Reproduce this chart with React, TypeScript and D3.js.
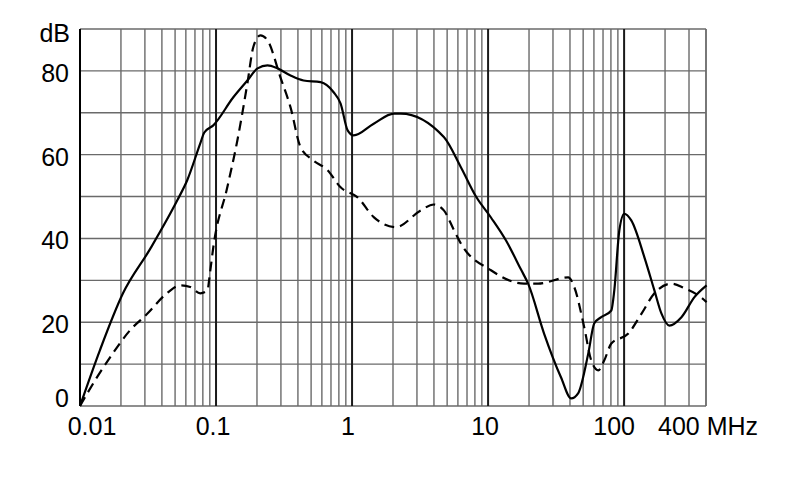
import * as d3 from 'd3';

// curve readings: frequency in MHz, level in dB
const solidFreq = [
	0.01, 0.014, 0.0207, 0.0328, 0.0519, 0.0614, 0.0766, 0.082, 0.0955, 0.134, 0.17, 0.202, 0.239,
	0.283, 0.353, 0.44, 0.587, 0.732, 0.824, 0.928, 1.028, 1.443, 2.03, 2.28, 4.73, 6.31, 8.15,
	10.5, 13.55, 17.5, 19.7, 25.8, 34.4, 40.8, 45.9, 54.5, 60.3, 67.9, 80.5, 84.7, 92.2, 100.3,
	112.9, 141, 167, 188, 215, 264, 329, 404,
];
const solidDb = [
	0, 13.3, 26.9, 37.5, 49.1, 53.9, 62.7, 65.3, 67, 73.7, 77.7, 80.6, 81.3, 80.6, 78.9, 77.7,
	77.3, 74.9, 72.2, 65.8, 64.6, 67.4, 69.8, 69.8, 64.2, 57, 50, 45, 39.5, 32.5, 29.2, 17.3, 6.8,
	1.8, 3, 12.5, 19.7, 21.2, 22.8, 27.6, 41.9, 45.9, 44.3, 35.5, 27.6, 22.1, 19.2, 21.2, 26, 28.8,
];

const dashedFreq = [
	0.01, 0.01335, 0.01664, 0.02336, 0.0312, 0.0438, 0.0546, 0.0647, 0.0766, 0.0863, 0.0908,
	0.0955, 0.121, 0.1435, 0.17, 0.188, 0.212, 0.239, 0.298, 0.353, 0.418, 0.521, 0.661, 0.824,
	1.099, 1.443, 2.1, 3.2, 3.99, 4.73, 5.61, 6.31, 10.5, 18.4, 23.3, 38.8, 43, 50.9, 57.3, 64.6,
	71.5, 80.5, 107.4, 134, 167, 223, 278, 352, 404,
];
const dashedDb = [
	0, 6.9, 11.6, 18.1, 22, 27, 28.8, 28.4, 26.9, 27.6, 32.4, 37.9, 52.2, 63.4, 77, 85.7, 88.5,
	87.3, 78.4, 71.3, 61.8, 58.6, 56.3, 52.2, 49.8, 45.1, 42.7, 46.7, 48.1, 46.7, 42, 38.8, 32.4,
	29.2, 29.2, 30.7, 28.4, 18.8, 10.9, 8.5, 10.9, 14.9, 17.3, 22, 26.9, 29.2, 28.1, 26.4, 24.8,
];

const yTicks = [0, 20, 40, 60, 80];
const xTicks = [0.01, 0.1, 1, 10, 100];
const decades = [0.01, 0.1, 1, 10, 100];
const multipliers = [1, 2, 3, 4, 5, 6, 7, 8, 9];

const WIDTH = 790;
const HEIGHT = 499;
const FONT = '"Liberation Sans", Arial, sans-serif';

const App = () => {
	const x = d3.scaleLog().domain([0.01, 400]).range([80, 706]);
	const y = d3.scaleLinear().domain([0, 90]).range([406, 29]);

	const vLines = decades
		.flatMap((d) => multipliers.map((m) => ({ v: d * m, major: m === 1 })))
		.filter((l) => l.v <= 400.0001)
		.concat([{ v: 400, major: false }]);
	const hLines = d3.range(0, 91, 10);

	const line = d3
		.line<[number, number]>()
		.x((d) => x(d[0]))
		.y((d) => y(d[1]))
		.curve(d3.curveMonotoneX);

	const solid = line(solidFreq.map((f, i) => [f, solidDb[i]])) ?? '';
	const dashed = line(dashedFreq.map((f, i) => [f, dashedDb[i]])) ?? '';

	// label nudges as in the original print
	const xLabelDx: Record<number, number> = { 0.01: 12, 0.1: -3, 1: -4, 10: -3, 100: -10 };

	return (
		<svg
			width={WIDTH}
			height={HEIGHT}
			style={{ position: 'absolute', left: 0, top: 0, background: '#fff' }}
			fontFamily={FONT}
		>
			<g>
				{hLines.map((v) => (
					<line
						key={`h${v}`}
						x1={x(0.01)}
						x2={x(400)}
						y1={y(v)}
						y2={y(v)}
						stroke="#6a6a6a"
						strokeWidth={1.4}
					/>
				))}
				{vLines.map((l, i) => (
					<line
						key={`v${i}`}
						x1={x(l.v)}
						x2={x(l.v)}
						y1={y(0)}
						y2={y(90)}
						stroke={l.major ? '#1a1a1a' : '#6a6a6a'}
						strokeWidth={l.major ? 2 : 1.4}
					/>
				))}
				<line x1={x(0.01)} x2={x(0.01)} y1={y(0)} y2={y(90)} stroke="#000" strokeWidth={2} />
			</g>

			<path d={dashed} fill="none" stroke="#000" strokeWidth={2.2} strokeDasharray="10 6" />
			<path d={solid} fill="none" stroke="#000" strokeWidth={2.2} />

			<g fontSize={25} fill="#000" textAnchor="end">
				{yTicks.map((v) => (
					<text key={v} x={69} y={y(v) + (v === 0 ? 1 : 11)}>
						{v}
					</text>
				))}
				<text x={70} y={42}>
					dB
				</text>
			</g>

			<g fontSize={25} fill="#000" textAnchor="middle">
				{xTicks.map((v) => (
					<text key={v} x={x(v) + (xLabelDx[v] ?? 0)} y={435}>
						{v}
					</text>
				))}
				<text x={658} y={435} textAnchor="start">
					400 MHz
				</text>
			</g>
		</svg>
	);
};

export default App;
